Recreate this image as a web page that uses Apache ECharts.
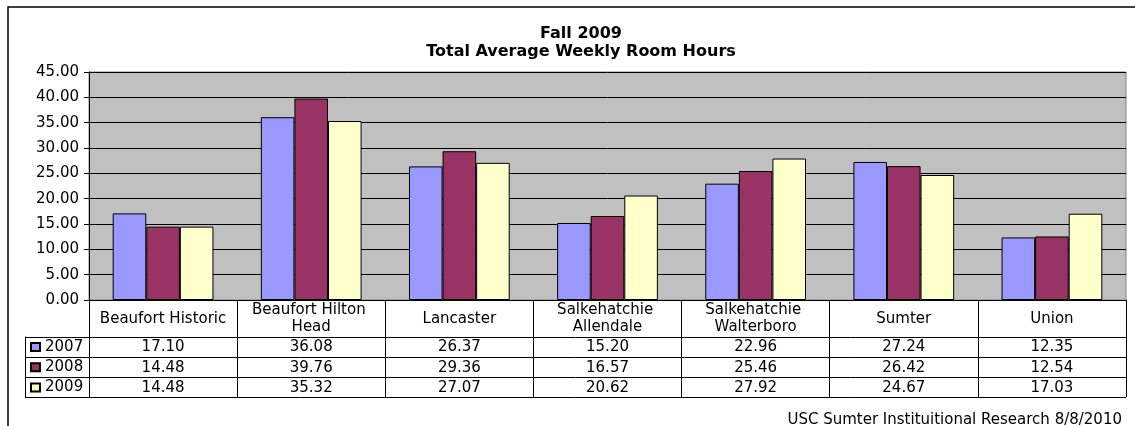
<!DOCTYPE html>
<html>
<head>
<meta charset="utf-8">
<script src="https://cdn.jsdelivr.net/npm/echarts@6/dist/echarts.min.js"></script>
<style>
  html, body { margin: 0; padding: 0; background: #ffffff; }
  #chart { width: 1135px; height: 426px; }
</style>
</head>
<body>
<div id="chart"></div>
<script>
// Campus names (columns of the data table)
const categories = [
  'Beaufort Historic', 'Beaufort Hilton Head', 'Lancaster',
  'Salkehatchie Allendale', 'Salkehatchie Walterboro', 'Sumter', 'Union'
];
// Fall terms shown as series
const years = ['2007', '2008', '2009'];
// Total average weekly room hours per campus
const hours2007 = [17.10, 36.08, 26.37, 15.20, 22.96, 27.24, 12.35];
const hours2008 = [14.48, 39.76, 29.36, 16.57, 25.46, 26.42, 12.54];
const hours2009 = [14.48, 35.32, 27.07, 20.62, 27.92, 24.67, 17.03];
const seriesValues = [hours2007, hours2008, hours2009];
const yearColors = ['#9999ff', '#993366', '#ffffcc'];

// Layout of the plot and the data table underneath it
const W = 1135, H = 426;
const GRID_LEFT = 89, GRID_RIGHT_X = 1126, GRID_TOP = 72, GRID_BOTTOM_Y = 300;
const HEADER_H = 36.5, ROW_H = 20.2, LEGEND_COL_X = 25;
const FONT = 'DejaVu Sans';
const FS = 15;

const chart = echarts.init(document.getElementById('chart'), null, { renderer: 'canvas' });

const option = {
  backgroundColor: '#ffffff',
  animation: false,
  textStyle: { fontFamily: FONT, color: '#000' },
  title: [
    {
      text: 'Fall 2009\nTotal Average Weekly Room Hours',
      left: 576, top: 20, textAlign: 'center',
      textStyle: { fontFamily: FONT, fontWeight: 'bold', fontSize: 16, lineHeight: 18, color: '#000' }
    },
    {
      text: 'USC Sumter Instituitional Research 8/8/2010',
      right: 8, top: 408,
      textStyle: { fontFamily: FONT, fontWeight: 'normal', fontSize: FS, color: '#000' }
    }
  ],
  legend: {
    orient: 'vertical',
    left: LEGEND_COL_X + 5,
    top: GRID_BOTTOM_Y + HEADER_H + 3,
    padding: 0,
    itemWidth: 9, itemHeight: 8, itemGap: 5.2,
    icon: 'rect',
    textStyle: { fontFamily: FONT, fontSize: FS, lineHeight: 15, color: '#000' },
    data: years
  },
  grid: {
    left: GRID_LEFT, right: W - GRID_RIGHT_X, top: GRID_TOP, bottom: H - GRID_BOTTOM_Y,
    show: true, backgroundColor: '#c0c0c0', borderColor: '#808080', borderWidth: 1
  },
  xAxis: {
    type: 'category',
    data: categories,
    axisLine: { show: true, lineStyle: { color: '#000', width: 1 } },
    axisTick: { show: true, length: HEADER_H + ROW_H * 3, lineStyle: { color: '#000', width: 1 } },
    axisLabel: {
      interval: 0, margin: HEADER_H / 2 + 0.5, verticalAlign: 'middle',
      width: 134, overflow: 'break', lineHeight: 17,
      fontFamily: FONT, fontSize: FS, color: '#000'
    }
  },
  yAxis: {
    type: 'value',
    min: 0, max: 45, interval: 5,
    axisLine: { show: true, lineStyle: { color: '#000', width: 1 } },
    axisTick: { show: true, length: 5, lineStyle: { color: '#000' } },
    axisLabel: {
      margin: 10, fontFamily: FONT, fontSize: FS, color: '#000',
      formatter: v => v.toFixed(2)
    },
    splitLine: { show: true, lineStyle: { color: '#000', width: 1 } }
  },
  series: years.map((y, i) => ({
    name: y,
    type: 'bar',
    data: seriesValues[i],
    barGap: '0%',
    barCategoryGap: '32%',
    itemStyle: { color: yearColors[i], borderColor: '#000', borderWidth: 1 }
  }))
};

chart.setOption(option);

// Data table body: row lines, legend column and the value cells
const tableTop = GRID_BOTTOM_Y + HEADER_H;
const tableBottom = tableTop + ROW_H * 3;
const gfx = [];
// outer chart frame
gfx.push({ type: 'rect', shape: { x: 8, y: 7, width: W + 20, height: H + 20 },
  style: { fill: null, stroke: '#000', lineWidth: 1.5 }, silent: true, z: 100 });
for (let r = 0; r <= 3; r++) {
  const y = Math.round(tableTop + r * ROW_H) + 0.5;
  gfx.push({ type: 'line', shape: { x1: LEGEND_COL_X, y1: y, x2: GRID_RIGHT_X, y2: y },
    style: { stroke: '#000', lineWidth: 1 }, silent: true, z: 100 });
}
gfx.push({ type: 'line', shape: { x1: LEGEND_COL_X + 0.5, y1: tableTop, x2: LEGEND_COL_X + 0.5, y2: Math.round(tableBottom) + 0.5 },
  style: { stroke: '#000', lineWidth: 1 }, silent: true, z: 100 });

seriesValues.forEach((vals, r) => {
  const cy = tableTop + r * ROW_H + ROW_H / 2 + 1;
  vals.forEach((v, c) => {
    const cx = chart.convertToPixel({ xAxisIndex: 0 }, categories[c]);
    gfx.push({
      type: 'text', x: cx, y: cy, silent: true, z: 100,
      style: { text: v.toFixed(2), fontFamily: FONT, fontSize: FS, fill: '#000',
        align: 'center', verticalAlign: 'middle' }
    });
  });
});

chart.setOption({ graphic: gfx });
</script>
</body>
</html>
